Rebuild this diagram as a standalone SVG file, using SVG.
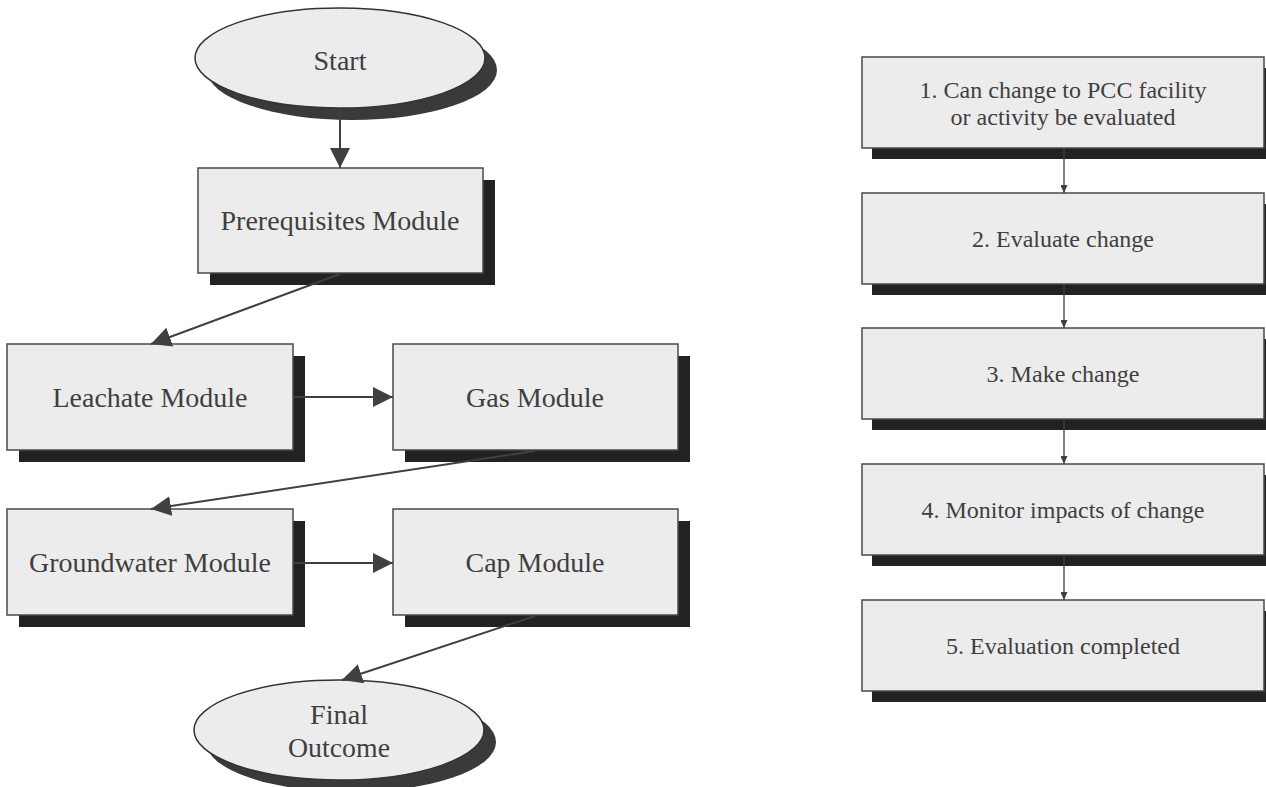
<svg xmlns="http://www.w3.org/2000/svg" width="1266" height="787" viewBox="0 0 1266 787">
<defs>
<style>
.box{fill:#ececec;stroke:#4a4a4a;stroke-width:1.5}
.shd{fill:#222}
.eshd{fill:#3a3a3a}
.ell{fill:#ececec;stroke:#333;stroke-width:1.5}
.t{font-family:'Liberation Serif','DejaVu Serif','Noto Serif',serif;font-size:28px;fill:#3f3f3f;text-anchor:middle}
.ts{font-family:'Liberation Serif','DejaVu Serif','Noto Serif',serif;font-size:24px;fill:#3f3f3f;text-anchor:middle}
.c{stroke:#404040;stroke-width:2;fill:none}
.cs{stroke:#404040;stroke-width:1.3;fill:none}
</style>
<marker id="big" viewBox="0 0 20 20" refX="20" refY="10" markerWidth="20" markerHeight="20" markerUnits="userSpaceOnUse" orient="auto">
<path d="M0,0 L20,10 L0,20 z" fill="#404040"/>
</marker>
<marker id="small" viewBox="0 0 8 7" refX="8" refY="3.5" markerWidth="8" markerHeight="7" markerUnits="userSpaceOnUse" orient="auto">
<path d="M0,0 L8,3.5 L0,7 z" fill="#404040"/>
</marker>
</defs>
<rect width="1266" height="787" fill="#fff"/>

<g id="start">
<ellipse class="eshd" cx="352" cy="70" rx="145" ry="50"/>
<ellipse class="ell" cx="340" cy="58" rx="145" ry="50"/>
<text class="t" x="340" y="70" textLength="53" lengthAdjust="spacingAndGlyphs">Start</text>
</g>
<g id="prereq">
<rect class="shd" x="210" y="180" width="285" height="105"/>
<rect class="box" x="198" y="168" width="285" height="105"/>
<text class="t" x="340" y="230" textLength="239" lengthAdjust="spacingAndGlyphs">Prerequisites Module</text>
</g>
<g id="leachate">
<rect class="shd" x="19" y="356" width="286" height="106"/>
<rect class="box" x="7" y="344" width="286" height="106"/>
<text class="t" x="150" y="407" textLength="195" lengthAdjust="spacingAndGlyphs">Leachate Module</text>
</g>
<g id="gas">
<rect class="shd" x="405" y="356" width="285" height="106"/>
<rect class="box" x="393" y="344" width="285" height="106"/>
<text class="t" x="535" y="407" textLength="138" lengthAdjust="spacingAndGlyphs">Gas Module</text>
</g>
<g id="groundwater">
<rect class="shd" x="19" y="521" width="286" height="106"/>
<rect class="box" x="7" y="509" width="286" height="106"/>
<text class="t" x="150" y="572" textLength="242" lengthAdjust="spacingAndGlyphs">Groundwater Module</text>
</g>
<g id="cap">
<rect class="shd" x="405" y="521" width="285" height="106"/>
<rect class="box" x="393" y="509" width="285" height="106"/>
<text class="t" x="535" y="572" textLength="139" lengthAdjust="spacingAndGlyphs">Cap Module</text>
</g>
<g id="final">
<ellipse class="eshd" cx="351" cy="742" rx="145" ry="50"/>
<ellipse class="ell" cx="339" cy="730" rx="145" ry="50"/>
<text class="t" x="339" y="724" textLength="58" lengthAdjust="spacingAndGlyphs">Final</text>
<text class="t" x="339" y="757" textLength="102" lengthAdjust="spacingAndGlyphs">Outcome</text>
</g>

<g id="step1">
<rect class="shd" x="872" y="68" width="404" height="91"/>
<rect class="box" x="862" y="57" width="402" height="91"/>
<text class="ts" x="1063" y="98" textLength="287" lengthAdjust="spacingAndGlyphs">1. Can change to PCC facility</text>
<text class="ts" x="1063" y="125" textLength="225" lengthAdjust="spacingAndGlyphs">or activity be evaluated</text>
</g>
<g id="step2">
<rect class="shd" x="872" y="204" width="404" height="91"/>
<rect class="box" x="862" y="193" width="402" height="91"/>
<text class="ts" x="1063" y="247" textLength="182" lengthAdjust="spacingAndGlyphs">2. Evaluate change</text>
</g>
<g id="step3">
<rect class="shd" x="872" y="339" width="404" height="91"/>
<rect class="box" x="862" y="328" width="402" height="91"/>
<text class="ts" x="1063" y="382" textLength="153" lengthAdjust="spacingAndGlyphs">3. Make change</text>
</g>
<g id="step4">
<rect class="shd" x="872" y="475" width="404" height="91"/>
<rect class="box" x="862" y="464" width="402" height="91"/>
<text class="ts" x="1063" y="518" textLength="283" lengthAdjust="spacingAndGlyphs">4. Monitor impacts of change</text>
</g>
<g id="step5">
<rect class="shd" x="872" y="611" width="404" height="91"/>
<rect class="box" x="862" y="600" width="402" height="91"/>
<text class="ts" x="1063" y="654" textLength="234" lengthAdjust="spacingAndGlyphs">5. Evaluation completed</text>
</g>

<g id="connectors">
<line class="c" x1="340" y1="109" x2="340" y2="168" marker-end="url(#big)"/>
<line class="c" x1="340" y1="274" x2="151" y2="344" marker-end="url(#big)"/>
<line class="c" x1="294" y1="397" x2="393" y2="397" marker-end="url(#big)"/>
<line class="c" x1="535" y1="451" x2="151" y2="509" marker-end="url(#big)"/>
<line class="c" x1="294" y1="563" x2="393" y2="563" marker-end="url(#big)"/>
<line class="c" x1="535" y1="616" x2="342" y2="680" marker-end="url(#big)"/>
<line class="cs" x1="1064" y1="149" x2="1064" y2="193" marker-end="url(#small)"/>
<line class="cs" x1="1064" y1="285" x2="1064" y2="328" marker-end="url(#small)"/>
<line class="cs" x1="1064" y1="420" x2="1064" y2="464" marker-end="url(#small)"/>
<line class="cs" x1="1064" y1="556" x2="1064" y2="600" marker-end="url(#small)"/>
</g>
</svg>
